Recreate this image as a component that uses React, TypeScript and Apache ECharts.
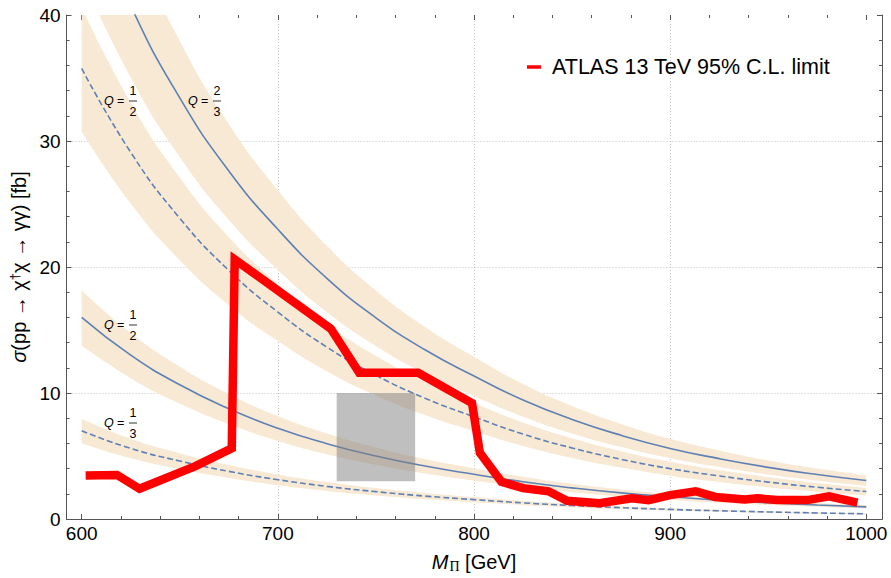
import React, { useEffect, useRef } from 'react';
import * as echarts from 'echarts';

// ---------- data ----------
const massGrid = [600, 625, 650, 675, 700, 725, 750, 775, 800, 825, 850, 875, 900, 925, 950, 975, 1000];

// Q = 2/3 (solid, upper family)
const q23Central = [50.06, 40.74, 33.42, 27.62, 22.99, 19.1, 15.97, 13.43, 11.35, 9.44, 7.9, 6.64, 5.6, 4.79, 4.1, 3.53, 3.05];
const q23Low = [43.05, 35.04, 28.74, 23.75, 19.77, 16.43, 13.73, 11.55, 9.76, 8.12, 6.79, 5.71, 4.82, 4.12, 3.53, 3.04, 2.62];
const q23High = [56.82, 46.24, 37.93, 31.35, 26.09, 21.68, 18.13, 15.24, 12.88, 10.71, 8.97, 7.54, 6.36, 5.44, 4.65, 4.01, 3.46];

// Q = 1/2 (dashed, upper family)
const q12aCentral = [35.76, 29.1, 23.87, 19.73, 16.42, 13.64, 11.41, 9.59, 8.11, 6.74, 5.64, 4.74, 4.0, 3.42, 2.93, 2.52, 2.18];
const q12aLow = [30.75, 25.03, 20.53, 16.97, 14.12, 11.73, 9.81, 8.25, 6.97, 5.8, 4.85, 4.08, 3.44, 2.94, 2.52, 2.17, 1.87];
const q12aHigh = [40.59, 33.03, 27.09, 22.39, 18.64, 15.48, 12.95, 10.88, 9.2, 7.65, 6.4, 5.38, 4.54, 3.88, 3.33, 2.86, 2.47];

// Q = 1/2 (solid, lower family)
const q12bCentral = [16.0, 13.0, 10.65, 8.75, 7.2, 5.98, 5.0, 4.2, 3.55, 2.95, 2.47, 2.07, 1.76, 1.5, 1.29, 1.11, 0.96];
const q12bLow = [13.76, 11.18, 9.16, 7.53, 6.19, 5.14, 4.3, 3.61, 3.05, 2.54, 2.12, 1.78, 1.51, 1.29, 1.11, 0.95, 0.83];
const q12bHigh = [18.16, 14.76, 12.09, 9.93, 8.17, 6.79, 5.68, 4.77, 4.03, 3.35, 2.8, 2.35, 2.0, 1.7, 1.46, 1.26, 1.09];

// Q = 1/3 (dashed, lower family)
const q13Central = [7.0, 5.6, 4.6, 3.78, 3.12, 2.59, 2.17, 1.82, 1.54, 1.28, 1.07, 0.9, 0.76, 0.65, 0.56, 0.48, 0.41];
const q13Low = [6.02, 4.82, 3.96, 3.25, 2.68, 2.23, 1.87, 1.57, 1.32, 1.1, 0.92, 0.77, 0.65, 0.56, 0.48, 0.41, 0.35];
const q13High = [7.95, 6.36, 5.22, 4.29, 3.54, 2.94, 2.46, 2.07, 1.75, 1.45, 1.21, 1.02, 0.86, 0.74, 0.64, 0.54, 0.47];

// ATLAS 13 TeV 95% C.L. limit
const atlasMass = [602, 618, 629.5, 658, 676.5, 678, 727, 741.5, 771.5, 799, 803, 814, 825, 838, 847.5, 864, 880.5, 889, 900, 913, 923, 938, 944.5, 954.5, 970, 981, 995.5];
const atlasLimit = [3.45, 3.5, 2.4, 4.2, 5.6, 20.6, 15.1, 11.6, 11.6, 9.2, 5.25, 2.95, 2.45, 2.2, 1.45, 1.25, 1.65, 1.5, 1.9, 2.2, 1.75, 1.55, 1.65, 1.5, 1.5, 1.8, 1.3];

// grey box (mass range, cross-section range)
const boxMass = [730, 770];
const boxSigma = [3, 10];

// axis ranges
const xRange = [600, 1000];
const frameXRange = [592, 1008];
const yRange = [0, 40];

// Q labels: [numerator, denominator]
const qFractions = [['1', '2'], ['2', '3'], ['1', '2'], ['1', '3']];

const ATLAS_NAME = 'ATLAS 13 TeV 95% C.L. limit';

// ---------- styling ----------
const FONT = '"Liberation Sans", Arial, Helvetica, sans-serif';
const BLUE = '#5E81B5';
const BAND = '#F8E9D4';
const FRAME = '#555555';
const GRIDC = '#C4C4C4';

// label anchor pixels (layout only)
const qLabelPos = [
  [104, 101],
  [188, 101],
  [104, 325],
  [104, 423],
];

export default function App() {
  const ref = useRef<HTMLDivElement>(null);

  useEffect(() => {
    const chart = echarts.init(ref.current!, null, { renderer: 'svg' });

    // bands are drawn on a hidden category axis over the same grid (same 25 GeV spacing),
    // so that stacking happens on the y dimension
    const band = (id: string, low: number[], high: number[]) => [
      {
        type: 'line',
        name: id + '_lo',
        xAxisIndex: 4,
        yAxisIndex: 2,
        stack: id,
        smooth: true,
        symbol: 'none',
        silent: true,
        z: 1,
        lineStyle: { opacity: 0, width: 0 },
        data: low,
      },
      {
        type: 'line',
        name: id + '_w',
        xAxisIndex: 4,
        yAxisIndex: 2,
        stack: id,
        smooth: true,
        symbol: 'none',
        silent: true,
        z: 1,
        lineStyle: { opacity: 0, width: 0 },
        areaStyle: { color: BAND, opacity: 1 },
        data: high.map((h, i) => h - low[i]),
      },
    ];

    const central = (id: string, vals: number[], dashed: boolean) => ({
      type: 'line',
      name: id,
      xAxisIndex: 2,
      yAxisIndex: 2,
      smooth: true,
      symbol: 'none',
      silent: true,
      z: 2,
      lineStyle: { color: BLUE, width: 1.6, type: dashed ? [6, 3] : 'solid' },
      data: massGrid.map((m, i) => [m, vals[i]]),
    });

    const qGraphics: any[] = [];
    qLabelPos.forEach(([x, y], k) => {
      const [num, den] = qFractions[k];
      qGraphics.push({
        type: 'group',
        z: 100,
        children: [
          { type: 'text', z: 100, x, y, style: { text: 'Q', font: `italic 12.5px ${FONT}`, fill: '#000', verticalAlign: 'middle', align: 'left' } },
          { type: 'text', z: 100, x: x + 13, y, style: { text: '=', font: `12.5px ${FONT}`, fill: '#000', verticalAlign: 'middle', align: 'left' } },
          { type: 'text', z: 100, x: x + 29, y: y - 10, style: { text: num, font: `12.5px ${FONT}`, fill: '#000', verticalAlign: 'middle', align: 'center' } },
          { type: 'line', z: 100, shape: { x1: x + 25, y1: y, x2: x + 33, y2: y }, style: { stroke: '#000', lineWidth: 0.8 } },
          { type: 'text', z: 100, x: x + 29, y: y + 11, style: { text: den, font: `12.5px ${FONT}`, fill: '#000', verticalAlign: 'middle', align: 'center' } },
        ],
      });
    });

    const option: any = {
      animation: false,
      backgroundColor: '#ffffff',
      textStyle: { fontFamily: FONT },
      grid: [
        { left: 66, width: 816, top: 15, height: 504, containLabel: false },
        { left: 81.7, width: 784.6, top: 15, height: 504, containLabel: false },
      ],
      legend: {
        data: [ATLAS_NAME],
        left: 527,
        top: 56,
        padding: 0,
        icon: 'rect',
        itemWidth: 14,
        itemHeight: 3.5,
        selectedMode: false,
        textStyle: { fontSize: 21.5, color: '#000', fontFamily: FONT, padding: [0, 0, 0, 6] },
      },
      xAxis: [
        {
          type: 'value', gridIndex: 0, position: 'bottom', min: frameXRange[0], max: frameXRange[1],
          axisLine: { show: true, lineStyle: { color: FRAME, width: 1 } },
          axisTick: { show: false }, axisLabel: { show: false }, splitLine: { show: false },
        },
        {
          type: 'value', gridIndex: 0, position: 'top', min: frameXRange[0], max: frameXRange[1],
          axisLine: { show: true, lineStyle: { color: FRAME, width: 1 } },
          axisTick: { show: false }, axisLabel: { show: false }, splitLine: { show: false },
        },
        {
          type: 'value', gridIndex: 1, position: 'bottom', min: xRange[0], max: xRange[1], interval: 100,
          name: '{i|M}{sub|Π} [GeV]',
          nameLocation: 'middle',
          nameGap: 32,
          nameTextStyle: {
            fontSize: 20, color: '#000', fontFamily: FONT,
            rich: {
              i: { fontSize: 20, fontStyle: 'italic', fontFamily: FONT, color: '#000' },
              sub: { fontSize: 14, fontFamily: '"Liberation Serif", "DejaVu Serif", serif', color: '#000', verticalAlign: 'bottom', padding: [8, 0, 0, 1] },
            },
          },
          axisLine: { show: false },
          axisTick: { show: true, inside: true, length: 5, lineStyle: { color: FRAME } },
          minorTick: { show: true, splitNumber: 5, length: 3, lineStyle: { color: FRAME } },
          axisLabel: { show: true, fontSize: 19, color: '#000', margin: 5, fontFamily: FONT, formatter: (v: number) => String(v) },
          splitLine: { show: true, showMinLine: false, showMaxLine: false, lineStyle: { color: GRIDC, type: [1, 2], width: 1 } },
        },
        {
          type: 'value', gridIndex: 1, position: 'top', min: xRange[0], max: xRange[1], interval: 100,
          axisLine: { show: false },
          axisTick: { show: true, inside: true, length: 5, lineStyle: { color: FRAME } },
          minorTick: { show: true, splitNumber: 5, length: 3, lineStyle: { color: FRAME } },
          axisLabel: { show: false }, splitLine: { show: false },
        },
        {
          type: 'category', gridIndex: 1, data: massGrid.map(String), boundaryGap: false, show: false,
        },
      ],
      yAxis: [
        {
          type: 'value', gridIndex: 0, position: 'left', min: yRange[0], max: yRange[1], interval: 10,
          name: '{i|σ}(pp → χ{sup|†}χ → γγ) [fb]',
          nameLocation: 'middle',
          nameGap: 33,
          nameRotate: 90,
          nameTextStyle: {
            fontSize: 20, color: '#000', fontFamily: FONT,
            rich: {
              i: { fontSize: 20, fontStyle: 'italic', fontFamily: FONT, color: '#000' },
              sup: { fontSize: 13, fontFamily: FONT, color: '#000', verticalAlign: 'top', padding: [0, 0, 8, 0] },
            },
          },
          axisLine: { show: true, lineStyle: { color: FRAME, width: 1 } },
          axisTick: { show: true, inside: true, length: 5, lineStyle: { color: FRAME } },
          minorTick: { show: true, splitNumber: 5, length: 3, lineStyle: { color: FRAME } },
          axisLabel: { show: true, fontSize: 19, color: '#000', margin: 6, fontFamily: FONT },
          splitLine: { show: true, showMinLine: false, showMaxLine: false, lineStyle: { color: GRIDC, type: [1, 2], width: 1 } },
        },
        {
          type: 'value', gridIndex: 0, position: 'right', min: yRange[0], max: yRange[1], interval: 10,
          axisLine: { show: true, lineStyle: { color: FRAME, width: 1 } },
          axisTick: { show: true, inside: true, length: 5, lineStyle: { color: FRAME } },
          minorTick: { show: true, splitNumber: 5, length: 3, lineStyle: { color: FRAME } },
          axisLabel: { show: false }, splitLine: { show: false },
        },
        {
          type: 'value', gridIndex: 1, min: yRange[0], max: yRange[1], show: false,
        },
      ],
      series: [
        ...band('bandQ23', q23Low, q23High),
        ...band('bandQ12a', q12aLow, q12aHigh),
        ...band('bandQ12b', q12bLow, q12bHigh),
        ...band('bandQ13', q13Low, q13High),
        central('Q23', q23Central, false),
        central('Q12a', q12aCentral, true),
        central('Q12b', q12bCentral, false),
        central('Q13', q13Central, true),
        {
          type: 'custom',
          name: 'box',
          xAxisIndex: 2,
          yAxisIndex: 2,
          z: 3,
          silent: true,
          data: [[boxMass[0], boxMass[1], boxSigma[0], boxSigma[1]]],
          renderItem: (params: any, api: any) => {
            const p1 = api.coord([api.value(0), api.value(3)]);
            const p2 = api.coord([api.value(1), api.value(2)]);
            return {
              type: 'rect',
              shape: { x: p1[0], y: p1[1], width: p2[0] - p1[0], height: p2[1] - p1[1] },
              style: { fill: 'rgba(128,128,128,0.5)' },
            };
          },
        },
        {
          type: 'line',
          name: ATLAS_NAME,
          xAxisIndex: 2,
          yAxisIndex: 2,
          z: 5,
          symbol: 'none',
          color: '#FF0000',
          lineStyle: { color: '#FF0000', width: 8.5, join: 'miter', cap: 'butt' },
          data: atlasMass.map((m, i) => [m, atlasLimit[i]]),
        },
      ],
      graphic: qGraphics,
    };

    chart.setOption(option);
    return () => chart.dispose();
  }, []);

  return <div ref={ref} style={{ position: 'absolute', left: 0, top: 0, width: 891, height: 578 }} />;
}
